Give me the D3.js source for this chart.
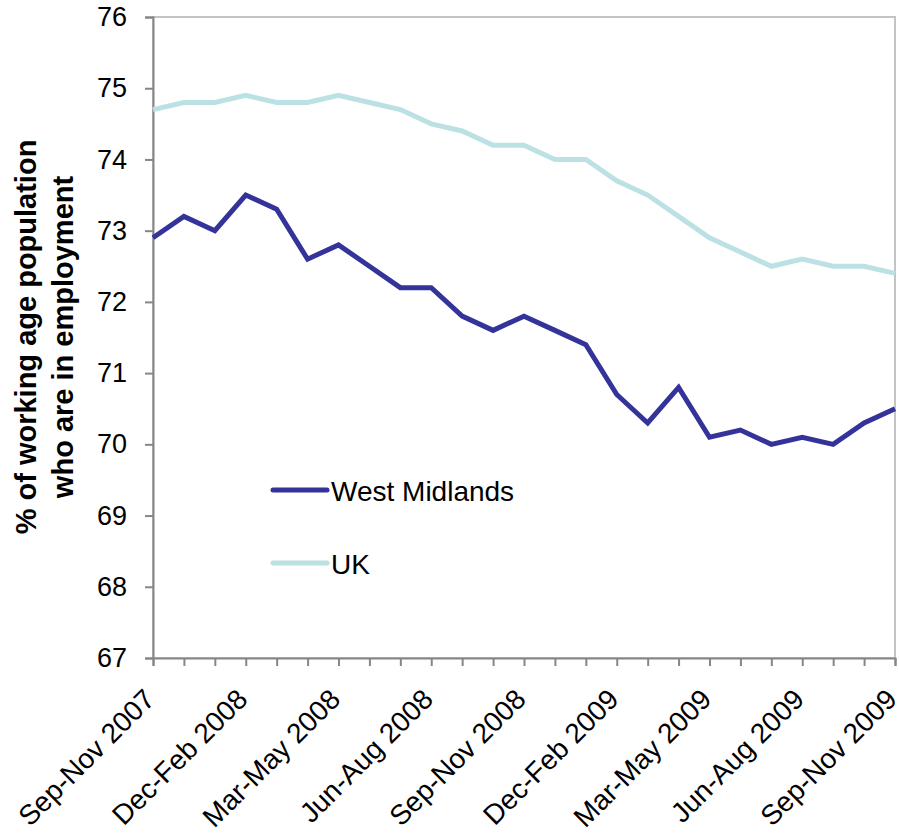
<html>
<head>
    <meta charset="utf-8">
    <title>Employment rate</title>
    <style>
        body {
            padding: 0;
            margin: 0;
            background: white;
            font-family: "Liberation Sans", Arial, sans-serif;
        }
        .axis path, .axis line {
            stroke: #868686;
            stroke-width: 2;
        }
        .axis text {
            fill: black;
            font-family: "Liberation Sans", Arial, sans-serif;
        }
    </style>
</head>
<body>
<div id="chart"></div>
<script src="https://d3js.org/d3.v7.min.js"></script>
<script>
    var periods = ["Sep-Nov 2007", "Oct-Dec 2007", "Nov-Jan 2008", "Dec-Feb 2008", "Jan-Mar 2008",
        "Feb-Apr 2008", "Mar-May 2008", "Apr-Jun 2008", "May-Jul 2008", "Jun-Aug 2008", "Jul-Sep 2008",
        "Aug-Oct 2008", "Sep-Nov 2008", "Oct-Dec 2008", "Nov-Jan 2009", "Dec-Feb 2009", "Jan-Mar 2009",
        "Feb-Apr 2009", "Mar-May 2009", "Apr-Jun 2009", "May-Jul 2009", "Jun-Aug 2009", "Jul-Sep 2009",
        "Aug-Oct 2009", "Sep-Nov 2009"];

    var tickLabels = ["Sep-Nov 2007", "Dec-Feb 2008", "Mar-May 2008", "Jun-Aug 2008", "Sep-Nov 2008",
        "Dec-Feb 2009", "Mar-May 2009", "Jun-Aug 2009", "Sep-Nov 2009"];

    var westMidlands = [72.9, 73.2, 73.0, 73.5, 73.3, 72.6, 72.8, 72.5, 72.2, 72.2, 71.8, 71.6, 71.8,
        71.6, 71.4, 70.7, 70.3, 70.8, 70.1, 70.2, 70.0, 70.1, 70.0, 70.3, 70.5];

    var uk = [74.7, 74.8, 74.8, 74.9, 74.8, 74.8, 74.9, 74.8, 74.7, 74.5, 74.4, 74.2, 74.2,
        74.0, 74.0, 73.7, 73.5, 73.2, 72.9, 72.7, 72.5, 72.6, 72.5, 72.5, 72.4];

    var yTicks = [67, 68, 69, 70, 71, 72, 73, 74, 75, 76];

    var width = 899, height = 836;
    var margin = {top: 17, left: 153, right: 4, bottom: 178};

    var svg = d3.select("#chart")
        .append("svg")
        .attr("width", width)
        .attr("height", height);

    var x = d3.scalePoint()
        .domain(periods)
        .range([margin.left, width - margin.right]);

    var y = d3.scaleLinear()
        .domain([67, 76])
        .range([height - margin.bottom, margin.top]);

    // plot area border (top and right show)
    svg.append("rect")
        .attr("x", margin.left)
        .attr("y", margin.top)
        .attr("width", width - margin.right - margin.left)
        .attr("height", height - margin.bottom - margin.top)
        .attr("fill", "none")
        .attr("stroke", "#c4c4c4")
        .attr("stroke-width", 2);

    var xAxis = svg.append("g")
        .attr("class", "axis")
        .attr("transform", "translate(0," + (height - margin.bottom) + ")")
        .call(d3.axisBottom(x).tickSize(8).tickFormat(""));

    xAxis.selectAll(".tick")
        .filter(function (d) { return tickLabels.indexOf(d) >= 0; })
        .append("text")
        .attr("text-anchor", "end")
        .attr("transform", "translate(3,43) rotate(-45)")
        .style("font-size", "28px")
        .text(function (d) { return d; });

    svg.append("g")
        .attr("class", "axis")
        .attr("transform", "translate(" + margin.left + ",0)")
        .call(d3.axisLeft(y).tickValues(yTicks).tickSize(8).tickPadding(18))
        .selectAll("text")
        .style("font-size", "27px");

    var line = d3.line()
        .x(function (d, i) { return x(periods[i]); })
        .y(function (d) { return y(d); });

    var series = [
        {name: "West Midlands", values: westMidlands, color: "#333399"},
        {name: "UK", values: uk, color: "#bce1e4"}
    ];

    // UK drawn first so West Midlands sits on top
    svg.selectAll(".series")
        .data(series.slice().reverse())
        .enter()
        .append("path")
        .attr("class", "series")
        .attr("d", function (d) { return line(d.values); })
        .attr("fill", "none")
        .attr("stroke", function (d) { return d.color; })
        .attr("stroke-width", 5)
        .attr("stroke-linejoin", "miter");

    // legend
    var legend = svg.append("g").selectAll("g")
        .data(series)
        .enter()
        .append("g")
        .attr("transform", function (d, i) { return "translate(273," + (490 + i * 73) + ")"; });

    legend.append("line")
        .attr("x1", 0).attr("x2", 54)
        .attr("stroke", function (d) { return d.color; })
        .attr("stroke-width", 5)
        .attr("stroke-linecap", "round");

    legend.append("text")
        .attr("x", 58)
        .attr("y", 11)
        .style("font-size", "28px")
        .text(function (d) { return d.name; });

    // y axis title
    var title = svg.append("text")
        .attr("transform", "translate(36,337) rotate(-90)")
        .attr("text-anchor", "middle")
        .style("font-size", "29px")
        .style("font-weight", "bold");

    title.append("tspan").attr("x", 0).attr("dy", 0).text("% of working age population");
    title.append("tspan").attr("x", 0).attr("dy", 37).text("who are in employment");
</script>
</body>
</html>
